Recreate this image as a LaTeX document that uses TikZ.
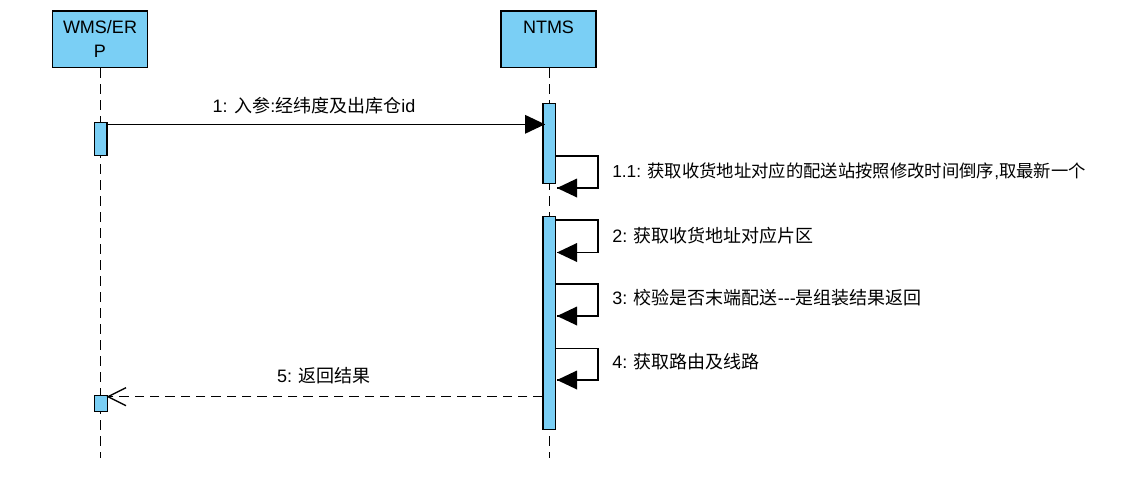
\documentclass[tikz,border=0pt]{standalone}
\usepackage{fontspec}
\setmainfont{Liberation Sans}
\newfontfamily\zhfont{Noto Sans CJK SC}
\newcommand{\zh}[1]{{\zhfont #1}}
\definecolor{barblue}{HTML}{7ACFF5}
\tikzset{
  head/.style={draw=black, fill=barblue, line width=1pt, minimum width=71.1pt, minimum height=42.5pt, align=center, font=\fontsize{13.5}{18}\selectfont},
  bar/.style={draw=black, fill=barblue, line width=1pt, minimum width=9.4pt},
  lifeline/.style={black, line width=0.9pt, dash pattern=on 7.5pt off 4.5pt},
  msg/.style={black, line width=1pt},
  retmsg/.style={black, line width=1pt, dash pattern=on 7pt off 4.5pt},
  lbl/.style={font=\fontsize{13.5}{16}\selectfont}
}
\begin{document}
\begin{tikzpicture}[x=0.75pt,y=-0.75pt]
		\tikzstyle{every node}+=[inner sep=0pt]
		\useasboundingbox (0,0) rectangle (1140,494);
		\node [head] (wms) at (100,39.3) {WMS/ER\\P};
		\node [head] (ntms) at (548.5,39.3) {NTMS\\\phantom{P}};
		\coordinate (wmsend) at (100.5,458);
		\coordinate (ntmsend) at (549.2,458);
		\draw [lifeline] (wms.south -| wmsend) -- (wmsend);
		\draw [lifeline] (ntms.south -| ntmsend) -- (ntmsend);
		\node [bar, minimum height=24.75pt] (wbar1) at (100.8,138.8) {};
		\node [bar, minimum height=12pt] (wbar2) at (101,403.7) {};
		\node [bar, minimum height=60pt] (nbar1) at (549.2,143.3) {};
		\node [bar, minimum height=159.5pt] (nbar2) at (549.2,323) {};
		\coordinate (m1s) at (106.8,124.3);
		\coordinate (m1e) at (545,124.3);
		\draw [msg] (m1s) -- (m1e);
		\fill [black] (m1e) -- ++(-20,-9.5) -- ++(0,19) -- cycle;
		\node [lbl] (m1) at (314,106) {1: \zh{入参}:\zh{经纬度及出库仓}id};
		\coordinate (l11s) at (555.5,156);
		\coordinate (l11e) at (557,188);
		\draw [msg] (l11s) -- ++(42.5,0) |- (l11e);
		\fill [black] (l11e) -- ++(20,-9.5) -- ++(0,19) -- cycle;
		\node [lbl, font=\fontsize{13}{16}\selectfont, anchor=west] (m11) at (612,171.5) {1.1: \zh{获取收货地址对应的配送站按照修改时间倒序},\zh{取最新一个}};
		\coordinate (l2s) at (555.5,220);
		\coordinate (l2e) at (557,252.5);
		\draw [msg] (l2s) -- ++(42.5,0) |- (l2e);
		\fill [black] (l2e) -- ++(20,-9.5) -- ++(0,19) -- cycle;
		\node [lbl, anchor=west] (m2) at (612,235.5) {2: \zh{获取收货地址对应片区}};
		\coordinate (l3s) at (555.5,284);
		\coordinate (l3e) at (557,316);
		\draw [msg] (l3s) -- ++(42.5,0) |- (l3e);
		\fill [black] (l3e) -- ++(20,-9.5) -- ++(0,19) -- cycle;
		\node [lbl, anchor=west] (m3) at (612,298) {3: \zh{校验是否末端配送}-{}-{}-\zh{是组装结果返回}};
		\coordinate (l4s) at (555.5,348.3);
		\coordinate (l4e) at (557,380);
		\draw [msg] (l4s) -- ++(42.5,0) |- (l4e);
		\fill [black] (l4e) -- ++(20,-9.5) -- ++(0,19) -- cycle;
		\node [lbl, anchor=west] (m4) at (612,362) {4: \zh{获取路由及线路}};
		\coordinate (m5s) at (542.7,396.7);
		\coordinate (m5e) at (108,396.7);
		\draw [retmsg] (m5s) -- (m5e);
		\draw [msg] (m5e) ++(18,-9) -- (m5e) -- ++(18,9);
		\node [lbl] (m5) at (324,376) {5: \zh{返回结果}};
	\end{tikzpicture}
\end{document}
